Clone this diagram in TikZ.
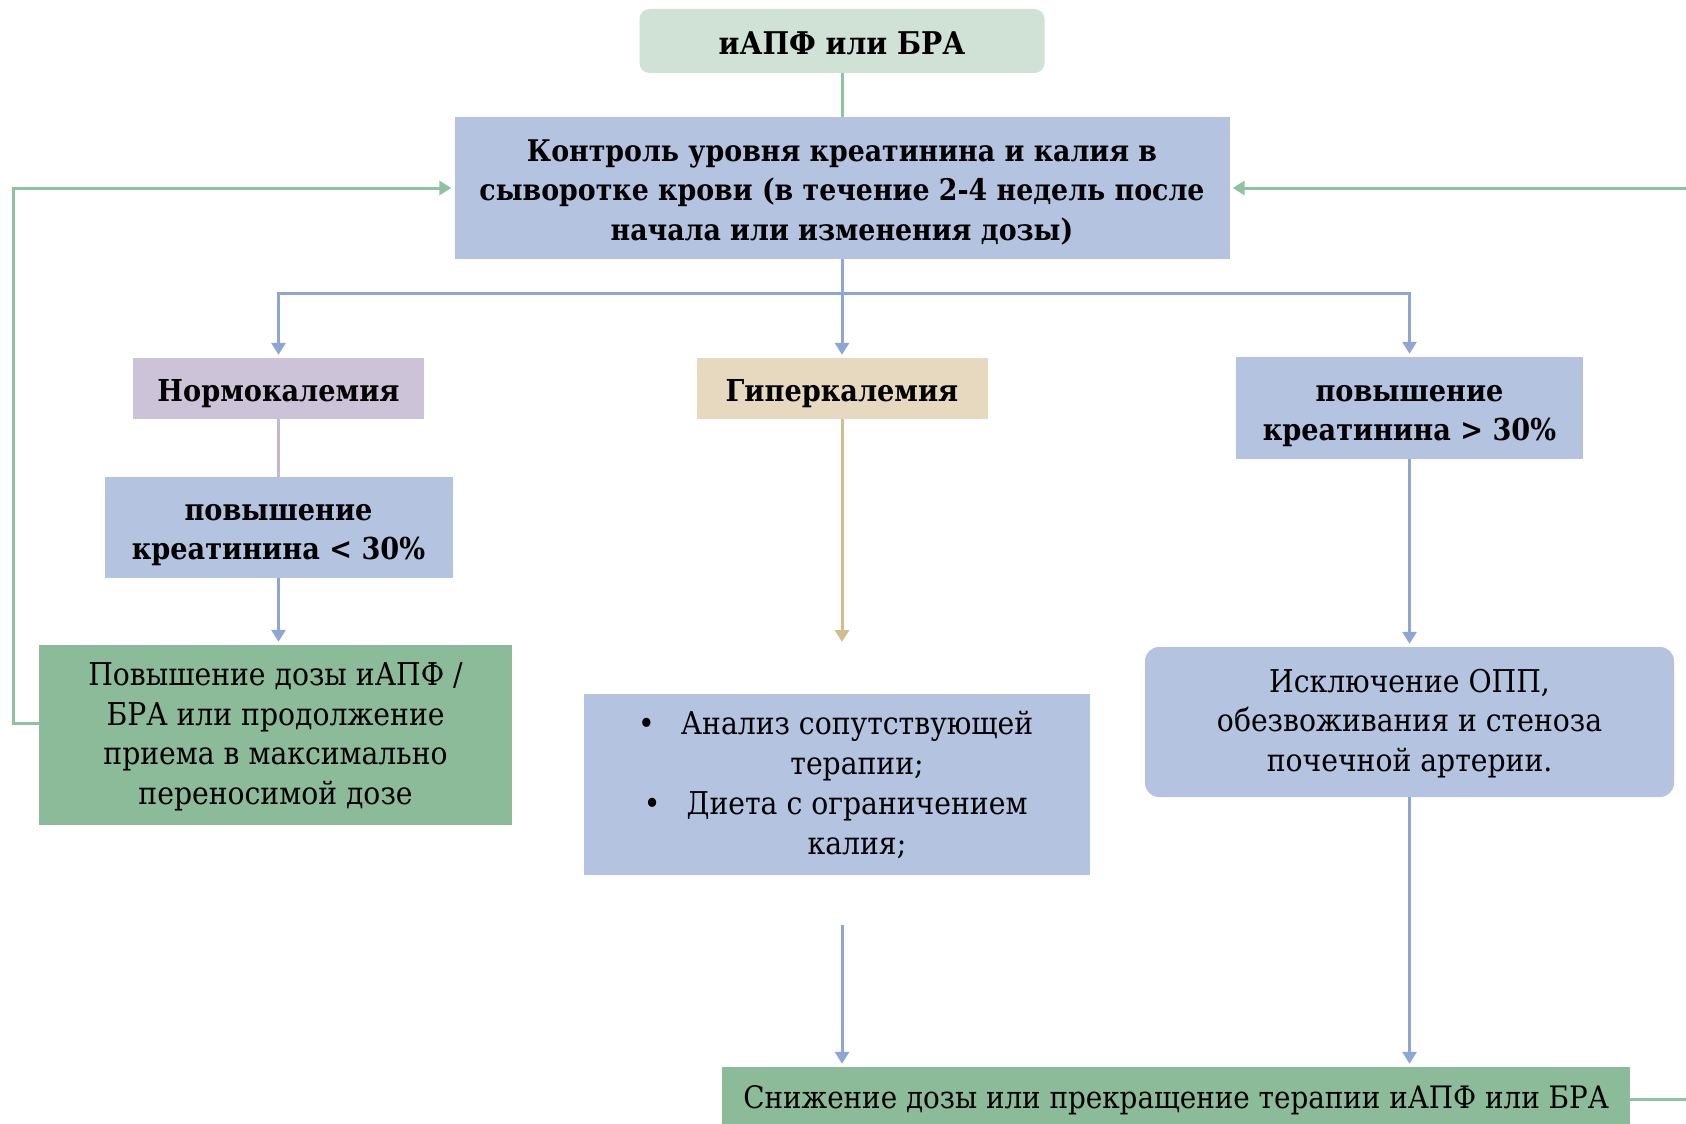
\documentclass[tikz,border=0pt]{standalone}
\usepackage{fontspec}
\setmainfont{DejaVu Serif Condensed}
\usetikzlibrary{arrows.meta}
\definecolor{topg}{HTML}{CFE2D5}
\definecolor{boxb}{HTML}{B4C3DF}
\definecolor{lav}{HTML}{CCC3D8}
\definecolor{tanb}{HTML}{E6D9BF}
\definecolor{grn}{HTML}{8BBB99}
\definecolor{lineb}{HTML}{8EA6D4}
\definecolor{linet}{HTML}{D3BC8E}
\definecolor{linel}{HTML}{C6B6CE}
\definecolor{lineg}{HTML}{8FC2A2}
\newsavebox\ctbox
\def\ctsh{2pt}
\newcommand\ctext[2][@{}c@{}]{\sbox\ctbox{\begin{tabular}{#1}#2\end{tabular}}\raisebox{\dimexpr(\dp\ctbox-\ht\ctbox)/2-\ctsh\relax}[0pt][0pt]{\usebox\ctbox}}
\newcommand\bul{\llap{\textbullet\hspace{26pt}}}
\tikzset{
  box/.style={inner sep=0pt, text=black},
  bft/.style={font=\bfseries\fontsize{30.2}{39.2}\selectfont\def\ctsh{5pt}},
  rft/.style={font=\fontsize{31.4}{39.8}\selectfont},
  tip/.style={-{Triangle[width=14pt,length=12pt]}, shorten >=3pt},
  bline/.style={draw=lineb, line width=3pt},
  tline/.style={draw=linet, line width=3pt},
  lline/.style={draw=linel, line width=3pt},
  gline/.style={draw=lineg, line width=3pt},
}
\begin{document}
\begin{tikzpicture}[x=1pt,y=-1pt]
\clip (0,0) rectangle (1686,1124);
\fill[white] (0,0) rectangle (1686,1124);
\node[box, font=\bfseries\fontsize{31.3}{39.2}\selectfont\def\ctsh{6pt}, fill=topg, rounded corners=10pt, minimum width=405pt, minimum height=64pt] (top) at (842,41) {\ctext{иАПФ или БРА}};
\node[box, font=\bfseries\fontsize{29.8}{39.2}\selectfont\def\ctsh{5pt}, fill=boxb, minimum width=775pt, minimum height=142pt] (ctrl) at (842,188) {\ctext{Контроль уровня креатинина и калия в\\ сыворотке крови (в течение 2-4 недель после\\ начала или изменения дозы)}};
\node[box, bft, fill=lav, minimum width=291pt, minimum height=61pt] (norm) at (278.5,388.5) {\ctext{Нормокалемия}};
\node[box, bft, fill=tanb, minimum width=291pt, minimum height=61pt] (hyper) at (842,388.5) {\ctext{Гиперкалемия}};
\node[box, bft, fill=boxb, minimum width=347pt, minimum height=102pt] (incr) at (1409.5,408) {\ctext{повышение\\ креатинина > 30\%}};
\node[box, bft, fill=boxb, minimum width=348pt, minimum height=101pt] (less) at (278.5,527.5) {\ctext{повышение\\ креатинина < 30\%}};
\node[box, rft, fill=grn, minimum width=473pt, minimum height=180pt] (green1) at (275.5,735) {\ctext{Повышение дозы иАПФ /\\ БРА или продолжение\\ приема в максимально\\ переносимой дозе}};
\node[box, rft, fill=boxb, minimum width=506pt, minimum height=181pt] (bullets) at (837,784.5) {\ctext[@{\hspace{40pt}}c@{}]{\bul Анализ сопутствующей\\ терапии;\\ \bul Диета с ограничением\\ калия;}};
\node[box, rft, fill=boxb, rounded corners=14pt, minimum width=529pt, minimum height=150pt] (excl) at (1409.5,722) {\ctext{Исключение ОПП,\\ обезвоживания и стеноза\\ почечной артерии.}};
\node[box, font=\fontsize{30.9}{39.8}\selectfont, fill=grn, minimum width=908pt, minimum height=64pt] (bottom) at (1176,1099) {\ctext{Снижение дозы или прекращение терапии иАПФ или БРА}};
\coordinate (busC) at (842,293);
\coordinate (hypEnd) at (842,645);
\coordinate (hypStart) at (842,925);
\coordinate (lcorner) at (13.5,188);
\coordinate (rcorner) at (1700,188);
\draw[gline] (top.south) -- (ctrl.north);
\draw[bline, tip] (ctrl.south) -- (hyper.north);
\draw[bline, tip] (busC) -| (norm.north);
\draw[bline, tip] (busC) -| (incr.north);
\draw[lline] (norm.south) -- (less.north);
\draw[bline, tip] (less.south) -- (less.south |- green1.north);
\draw[tline, tip] (hyper.south) -- (hypEnd);
\draw[bline, tip] (hypStart) -- (hypStart |- bottom.north);
\draw[bline, tip] (incr.south) -- (excl.north);
\draw[bline, tip] (excl.south) -- (excl.south |- bottom.north);
\draw[gline, tip] ([yshift=12pt]green1.west) -| (lcorner) -- (ctrl.west);
\draw[gline, tip] (bottom.east) -| (rcorner) -- (ctrl.east);
\end{tikzpicture}
\end{document}
